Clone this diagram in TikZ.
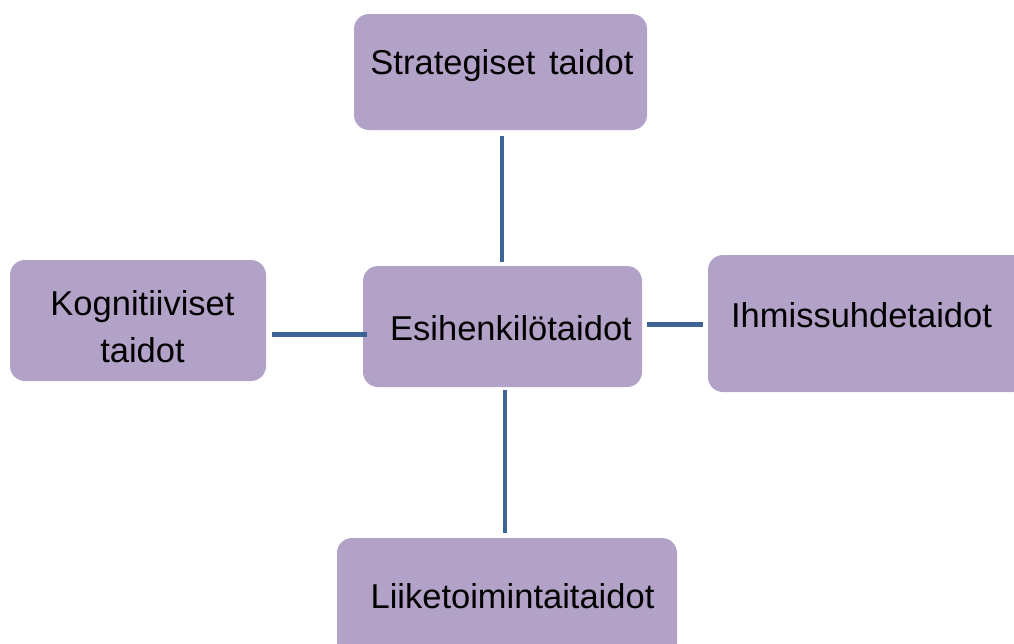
\documentclass[tikz,border=0pt]{standalone}
\usepackage{fontspec}
\setmainfont{Liberation Sans}
\usetikzlibrary{calc}
\definecolor{boxfill}{HTML}{B3A2C7}
\definecolor{linkcol}{HTML}{3E6496}
\begin{document}
\begin{tikzpicture}[x=1pt,y=-1pt,
  box/.style={fill=boxfill,rounded corners=15pt,inner sep=0pt},
  lbl/.style={anchor=base,inner sep=0pt,font=\fontsize{34.5}{47}\selectfont,align=center},
  link/.style={draw=linkcol,line width=4.6pt}]
\useasboundingbox (0,0) rectangle (1014,643);
% boxes
\node[box,minimum width=293pt,minimum height=116pt] (S) at (500.5,72) {};
\node[box,minimum width=256pt,minimum height=121pt] (K) at (138,320.5) {};
\node[box,minimum width=279pt,minimum height=121pt] (E) at (502.5,326.5) {};
\node[box,minimum width=320pt,minimum height=137pt] (I) at (868,323.5) {};
\node[box,minimum width=340pt,minimum height=130pt] (L) at (507,603) {};
% texts
\node[lbl] (St) at (502,74) {Strategiset\hspace{0.12em} taidot};
\node[lbl] (Kt) at (142.5,362) {Kognitiiviset\\taidot};
\node[lbl] (Et) at (511,340) {Esihenkilötaidot};
\node[lbl] (It) at (861.5,327) {Ihmissuhdetaidot};
\node[lbl] (Lt) at (512.5,608) {Liiketoimintaitaidot};
% connectors
\draw[link] ($(S.south)+(1.5,6)$) -- ($(E.north)+(-0.5,-4)$);
\draw[link] ($(K.east)+(6,14)$) -- ($(E.west)+(4,8)$);
\draw[link] ($(E.east)+(5,-2)$) -- ($(I.west)+(-5,1)$);
\draw[link] ($(E.south)+(2.5,3)$) -- ($(L.north)+(-2,-5)$);
\end{tikzpicture}
\end{document}
